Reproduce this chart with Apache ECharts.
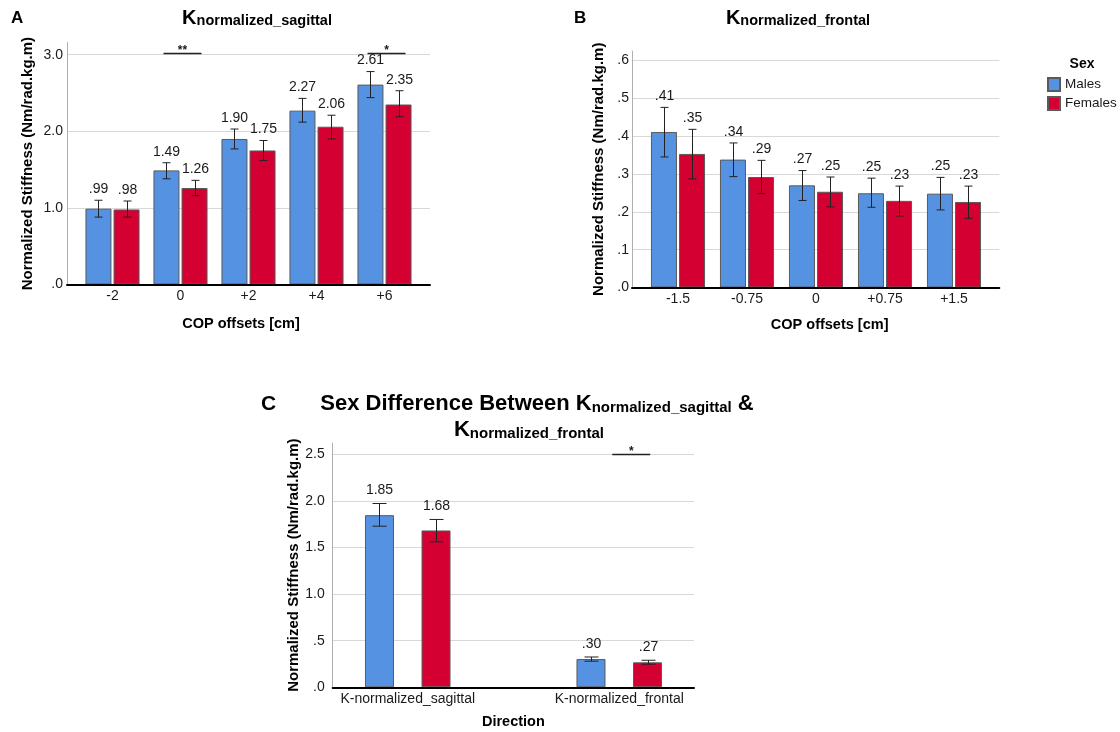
<!DOCTYPE html>
<html>
<head>
<meta charset="utf-8">
<script src="https://cdn.jsdelivr.net/npm/echarts@6/dist/echarts.min.js"></script>
<style>
html,body{margin:0;padding:0;background:#fff;}
#chart{width:1120px;height:732px;}
</style>
</head>
<body>
<div id="chart"></div>
<script>
// ---------- data ----------
const catsA = ['-2', '0', '+2', '+4', '+6'];
const malesA = [0.99, 1.49, 1.90, 2.27, 2.61];
const femalesA = [0.98, 1.26, 1.75, 2.06, 2.35];
const malesA_lo = [0.88, 1.38, 1.77, 2.12, 2.44];
const malesA_hi = [1.10, 1.59, 2.03, 2.43, 2.78];
const femalesA_lo = [0.88, 1.16, 1.62, 1.90, 2.19];
const femalesA_hi = [1.09, 1.36, 1.88, 2.21, 2.53];
const sigA_cats = [1, 4];
const sigA_level = [3.02, 3.02];
const sigA_marks = ['**', '*'];

const catsB = ['-1.5', '-0.75', '0', '+0.75', '+1.5'];
const malesB = [0.411, 0.338, 0.270, 0.249, 0.248];
const femalesB = [0.353, 0.292, 0.253, 0.229, 0.226];
const malesB_lo = [0.345, 0.293, 0.230, 0.212, 0.205];
const malesB_hi = [0.476, 0.382, 0.309, 0.289, 0.291];
const femalesB_lo = [0.287, 0.248, 0.213, 0.189, 0.183];
const femalesB_hi = [0.418, 0.336, 0.292, 0.268, 0.268];

const catsC = ['K-normalized_sagittal', 'K-normalized_frontal'];
const malesC = [1.846, 0.303];
const femalesC = [1.682, 0.268];
const malesC_lo = [1.728, 0.280];
const malesC_hi = [1.971, 0.325];
const femalesC_lo = [1.56, 0.248];
const femalesC_hi = [1.80, 0.290];
const sigC_cats = [1];
const sigC_level = [2.5];
const sigC_marks = ['*'];

const seriesNames = ['Males', 'Females'];

// ---------- style ----------
const FONT = '"Liberation Sans", Arial, Helvetica, sans-serif';
const BLUE = '#5592E2';
const RED = '#D40032';
const TXT = '#1a1a1a';

function fmtVal(v) { return v.toFixed(2).replace(/^0\./, '.'); }
function tickFmt(step) {
  return function (v) {
    const r = v / step;
    if (Math.abs(r - Math.round(r)) > 1e-6) return '';
    return v.toFixed(1).replace(/^0\./, '.');
  };
}

function errSeries(axisIdx, means, lo, hi, side, offset, cap, labelGap, name) {
  return {
    type: 'custom', name: name, xAxisIndex: axisIdx, yAxisIndex: axisIdx, silent: true, z: 6,
    encode: { x: 0, y: [1, 2] },
    data: means.map((m, i) => [i, lo[i], hi[i], m]),
    renderItem: function (params, api) {
      const i = api.value(0);
      const pLo = api.coord([i, api.value(1)]);
      const pHi = api.coord([i, api.value(2)]);
      const x = Math.round(pLo[0] + side * offset) + 0.5;
      const st = { stroke: '#222', lineWidth: 1 };
      return {
        type: 'group', children: [
          { type: 'line', shape: { x1: x, y1: pLo[1], x2: x, y2: pHi[1] }, style: st },
          { type: 'line', shape: { x1: x - cap, y1: pHi[1], x2: x + cap, y2: pHi[1] }, style: st },
          { type: 'line', shape: { x1: x - cap, y1: pLo[1], x2: x + cap, y2: pLo[1] }, style: st },
          { type: 'text', x: x, y: pHi[1] - labelGap,
            style: { text: fmtVal(api.value(3)), align: 'center', verticalAlign: 'middle',
                     fontSize: 14, fontFamily: FONT, fill: TXT } }
        ]
      };
    }
  };
}

function sigSeries(axisIdx, cats, levels, marks, shift, half, name) {
  return {
    type: 'custom', name: name, xAxisIndex: axisIdx, yAxisIndex: axisIdx, silent: true, z: 6,
    encode: { x: 0, y: 1 },
    data: cats.map((c, k) => [c, levels[k]]),
    renderItem: function (params, api) {
      const p = api.coord([api.value(0), api.value(1)]);
      const x = p[0] + shift;
      const y = Math.round(p[1]) + 0.5;
      return {
        type: 'group', children: [
          { type: 'line', shape: { x1: x - half, y1: y, x2: x + half, y2: y }, style: { stroke: '#222', lineWidth: 1.5 } },
          { type: 'text', x: x, y: y + 3,
            style: { text: marks[params.dataIndex], align: 'center', verticalAlign: 'bottom',
                     fontSize: 12, fontFamily: FONT, fill: TXT, fontWeight: 'bold' } }
        ]
      };
    }
  };
}

function barSeries(axisIdx, name, data, color, width, gap) {
  return {
    type: 'bar', name: name, xAxisIndex: axisIdx, yAxisIndex: axisIdx, data: data,
    barWidth: width, barGap: gap, z: 3,
    itemStyle: { color: color, borderColor: '#5a5a5a', borderWidth: 1 },
    emphasis: { disabled: true }
  };
}

// panel geometry
const P = {
  A: { top: 42.7, bottom: 284.5, dispL: 67, dispR: 430, barL: 78.5, barR: 418.5, max: 3.157, step: 1 },
  B: { top: 51, bottom: 287.5, dispL: 632, dispR: 999.3, barL: 643.5, barR: 988.5, max: 0.625, step: 0.1 },
  C: { top: 443, bottom: 687.3, dispL: 332.7, dispR: 694, barL: 302, barR: 725, max: 2.62, step: 0.5 }
};

const grids = [];
const xAxes = [];
const yAxes = [];
const keys = ['A', 'B', 'C'];
const cats = { A: catsA, B: catsB, C: catsC };
const yNameGap = { A: 32, B: 26, C: 30 };
const xNameGap = { A: 32, B: 30, C: 27 };
const xNamePad = { A: [0, 15, 0, 0], B: [0, 0, 0, 28], C: [0, 0, 0, 0] };
const xName = { A: 'COP offsets [cm]', B: 'COP offsets [cm]', C: 'Direction' };
const yLabMargin = { A: 4, B: 3, C: 8 };

keys.forEach((k) => {
  const g = P[k];
  // bar grid
  grids.push({ left: g.barL, top: g.top, width: g.barR - g.barL, height: g.bottom - g.top, containLabel: false });
  xAxes.push({
    gridIndex: grids.length - 1, type: 'category', data: cats[k],
    axisLine: { show: false }, axisTick: { show: false }, splitLine: { show: false },
    axisLabel: { fontSize: 14, color: TXT, fontFamily: FONT, margin: 5, interval: 0 }
  });
  yAxes.push({ gridIndex: grids.length - 1, type: 'value', min: 0, max: g.max, show: false, splitLine: { show: false } });
  // display grid
  grids.push({ left: g.dispL, top: g.top, width: g.dispR - g.dispL, height: g.bottom - g.top, containLabel: false });
  xAxes.push({
    gridIndex: grids.length - 1, type: 'value', min: 0, max: 1, z: 10,
    axisLine: { show: true, lineStyle: { color: '#000', width: 2 } },
    axisTick: { show: false }, axisLabel: { show: false }, splitLine: { show: false },
    name: xName[k], nameLocation: 'middle', nameGap: xNameGap[k],
    nameTextStyle: { fontSize: 14.5, fontWeight: 'bold', color: '#000', fontFamily: FONT, padding: xNamePad[k] }
  });
  yAxes.push({
    gridIndex: grids.length - 1, type: 'value', min: 0, max: g.max, interval: g.step,
    axisLine: { show: true, lineStyle: { color: '#b0b0b0', width: 1 } },
    axisTick: { show: false },
    axisLabel: { fontSize: 14, color: TXT, fontFamily: FONT, margin: yLabMargin[k], formatter: tickFmt(g.step) },
    splitLine: { show: true, showMinLine: false, showMaxLine: false, lineStyle: { color: '#d8d8d8', width: 1 } },
    name: 'Normalized Stiffness (Nm/rad.kg.m)', nameLocation: 'middle', nameGap: yNameGap[k],
    nameTextStyle: { fontSize: 15, fontWeight: 'bold', color: '#000', fontFamily: FONT }
  });
});

const series = [
  barSeries(0, seriesNames[0], malesA, BLUE, 26, '8%'),
  barSeries(0, seriesNames[1], femalesA, RED, 26, '8%'),
  errSeries(0, malesA, malesA_lo, malesA_hi, -1, 14.04, 4, 11, 'errAm'),
  errSeries(0, femalesA, femalesA_lo, femalesA_hi, 1, 14.04, 4, 11, 'errAf'),
  sigSeries(0, sigA_cats, sigA_level, sigA_marks, 2, 19, 'sigA'),

  barSeries(2, seriesNames[0], malesB, BLUE, 26, '8%'),
  barSeries(2, seriesNames[1], femalesB, RED, 26, '8%'),
  errSeries(2, malesB, malesB_lo, malesB_hi, -1, 14.04, 4, 11, 'errBm'),
  errSeries(2, femalesB, femalesB_lo, femalesB_hi, 1, 14.04, 4, 11, 'errBf'),

  barSeries(4, seriesNames[0], malesC, BLUE, 29, '95%'),
  barSeries(4, seriesNames[1], femalesC, RED, 29, '95%'),
  errSeries(4, malesC, malesC_lo, malesC_hi, -1, 28.3, 7, 13, 'errCm'),
  errSeries(4, femalesC, femalesC_lo, femalesC_hi, 1, 28.3, 7, 13, 'errCf'),
  sigSeries(4, sigC_cats, sigC_level, sigC_marks, 12, 19, 'sigC')
];

function titleRich(big, small) {
  return {
    k: { fontSize: big, fontWeight: 'bold', fontFamily: FONT, fill: '#000', lineHeight: big, verticalAlign: 'bottom' },
    b: { fontSize: big, fontWeight: 'bold', fontFamily: FONT, fill: '#000', lineHeight: big, verticalAlign: 'bottom' },
    s: { fontSize: small, fontWeight: 'bold', fontFamily: FONT, fill: '#000', lineHeight: small, verticalAlign: 'bottom' }
  };
}

const option = {
  backgroundColor: '#fff',
  animation: false,
  grid: grids,
  xAxis: xAxes,
  yAxis: yAxes,
  series: series,
  legend: {
    data: seriesNames, orient: 'vertical', left: 1047, top: 77, padding: 0,
    itemWidth: 12, itemHeight: 13, itemGap: 4, icon: 'rect', selectedMode: false,
    textStyle: { fontSize: 13.5, color: TXT, fontFamily: FONT }
  },
  graphic: [
    { type: 'text', x: 11, y: 27, style: { text: 'A', fontSize: 17, fontWeight: 'bold', fontFamily: FONT, fill: '#000', verticalAlign: 'bottom' } },
    { type: 'text', x: 574, y: 27, style: { text: 'B', fontSize: 17, fontWeight: 'bold', fontFamily: FONT, fill: '#000', verticalAlign: 'bottom' } },
    { type: 'text', x: 261, y: 415, style: { text: 'C', fontSize: 21, fontWeight: 'bold', fontFamily: FONT, fill: '#000', verticalAlign: 'bottom' } },
    { type: 'text', x: 257, y: 28, style: { text: '{k|K}{s|normalized_sagittal}', align: 'center', verticalAlign: 'bottom', rich: titleRich(20, 14.5) } },
    { type: 'text', x: 798, y: 28, style: { text: '{k|K}{s|normalized_frontal}', align: 'center', verticalAlign: 'bottom', rich: titleRich(20, 14.5) } },
    { type: 'text', x: 537, y: 415, style: { text: '{b|Sex Difference Between }{k|K}{s|normalized_sagittal}{b| &}', align: 'center', verticalAlign: 'bottom', rich: titleRich(22, 15) } },
    { type: 'text', x: 529, y: 441, style: { text: '{k|K}{s|normalized_frontal}', align: 'center', verticalAlign: 'bottom', rich: titleRich(22, 15) } },
    { type: 'text', x: 1082, y: 64, style: { text: 'Sex', align: 'center', verticalAlign: 'middle', fontSize: 14, fontWeight: 'bold', fontFamily: FONT, fill: '#000' } }
  ]
};

const chart = echarts.init(document.getElementById('chart'), null, { renderer: 'canvas' });
chart.setOption(option);
</script>
</body>
</html>
